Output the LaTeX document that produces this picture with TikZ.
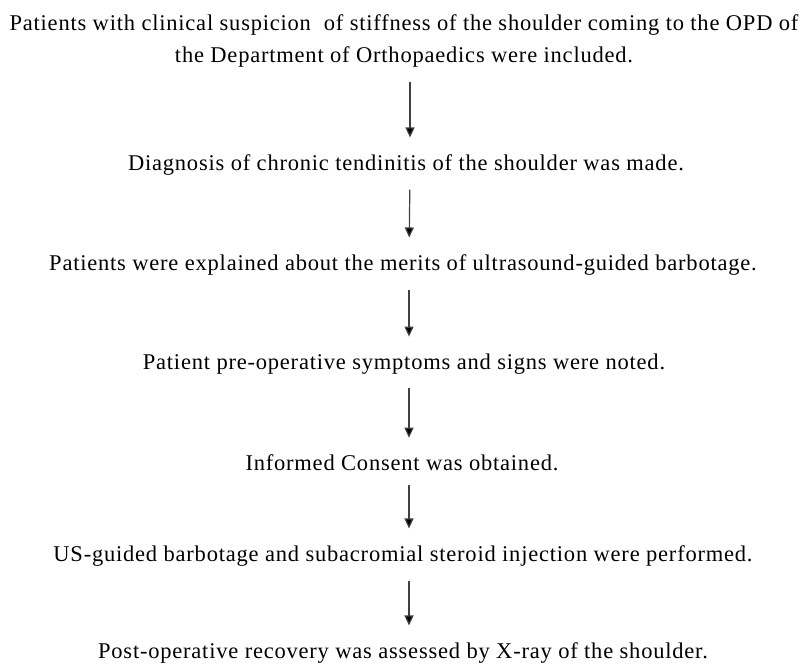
\documentclass[tikz,border=0pt]{standalone}
\usepackage{fontspec}
\setmainfont{Liberation Serif}[LetterSpace=3.5]
\usetikzlibrary{arrows.meta}
\tikzset{stage/.style={font=\fontsize{22.5}{32}\selectfont, align=center, inner sep=0pt}}
\tikzset{flow/.style={draw=black!75, line width=1.2pt, -{Triangle[length=10pt,width=9pt,fill=black]},
  shorten <=14pt, shorten >=17pt}}

\begin{document}
\begin{tikzpicture}[x=1pt,y=-1pt]
  \useasboundingbox (0,0) rectangle (806,665);
  \node[stage] (incl) at (404,41) {Patients with clinical suspicion\ \ of stiffness of the shoulder coming to the OPD of\\the Department of Orthopaedics were included.};
  \node[stage] (diag) at (406,165) {Diagnosis of chronic tendinitis of the shoulder was made.};
  \node[stage] (expl) at (403,265) {Patients were explained about the merits of ultrasound-guided barbotage.};
  \node[stage] (sympt) at (404,364) {Patient pre-operative symptoms and signs were noted.};
  \node[stage] (cons) at (402,463) {Informed Consent was obtained.};
  \node[stage] (perf) at (403,556) {US-guided barbotage and subacromial steroid injection were performed.};
  \node[stage] (recov) at (403,653) {Post-operative recovery was assessed by X-ray of the shoulder.};
  % arrows run a little right of the centre line
  \draw[flow] ([xshift=6pt]incl.south) -- ([xshift=4pt]diag.north);
  \draw[flow] ([xshift=4pt]diag.south) -- ([xshift=6pt]expl.north);
  \draw[flow] ([xshift=6pt]expl.south) -- ([xshift=5pt]sympt.north);
  \draw[flow] ([xshift=5pt]sympt.south) -- ([xshift=7pt]cons.north);
  \draw[flow] ([xshift=7pt]cons.south) -- ([xshift=6pt]perf.north);
  \draw[flow] ([xshift=6pt]perf.south) -- ([xshift=6pt]recov.north);
\end{tikzpicture}
\end{document}
